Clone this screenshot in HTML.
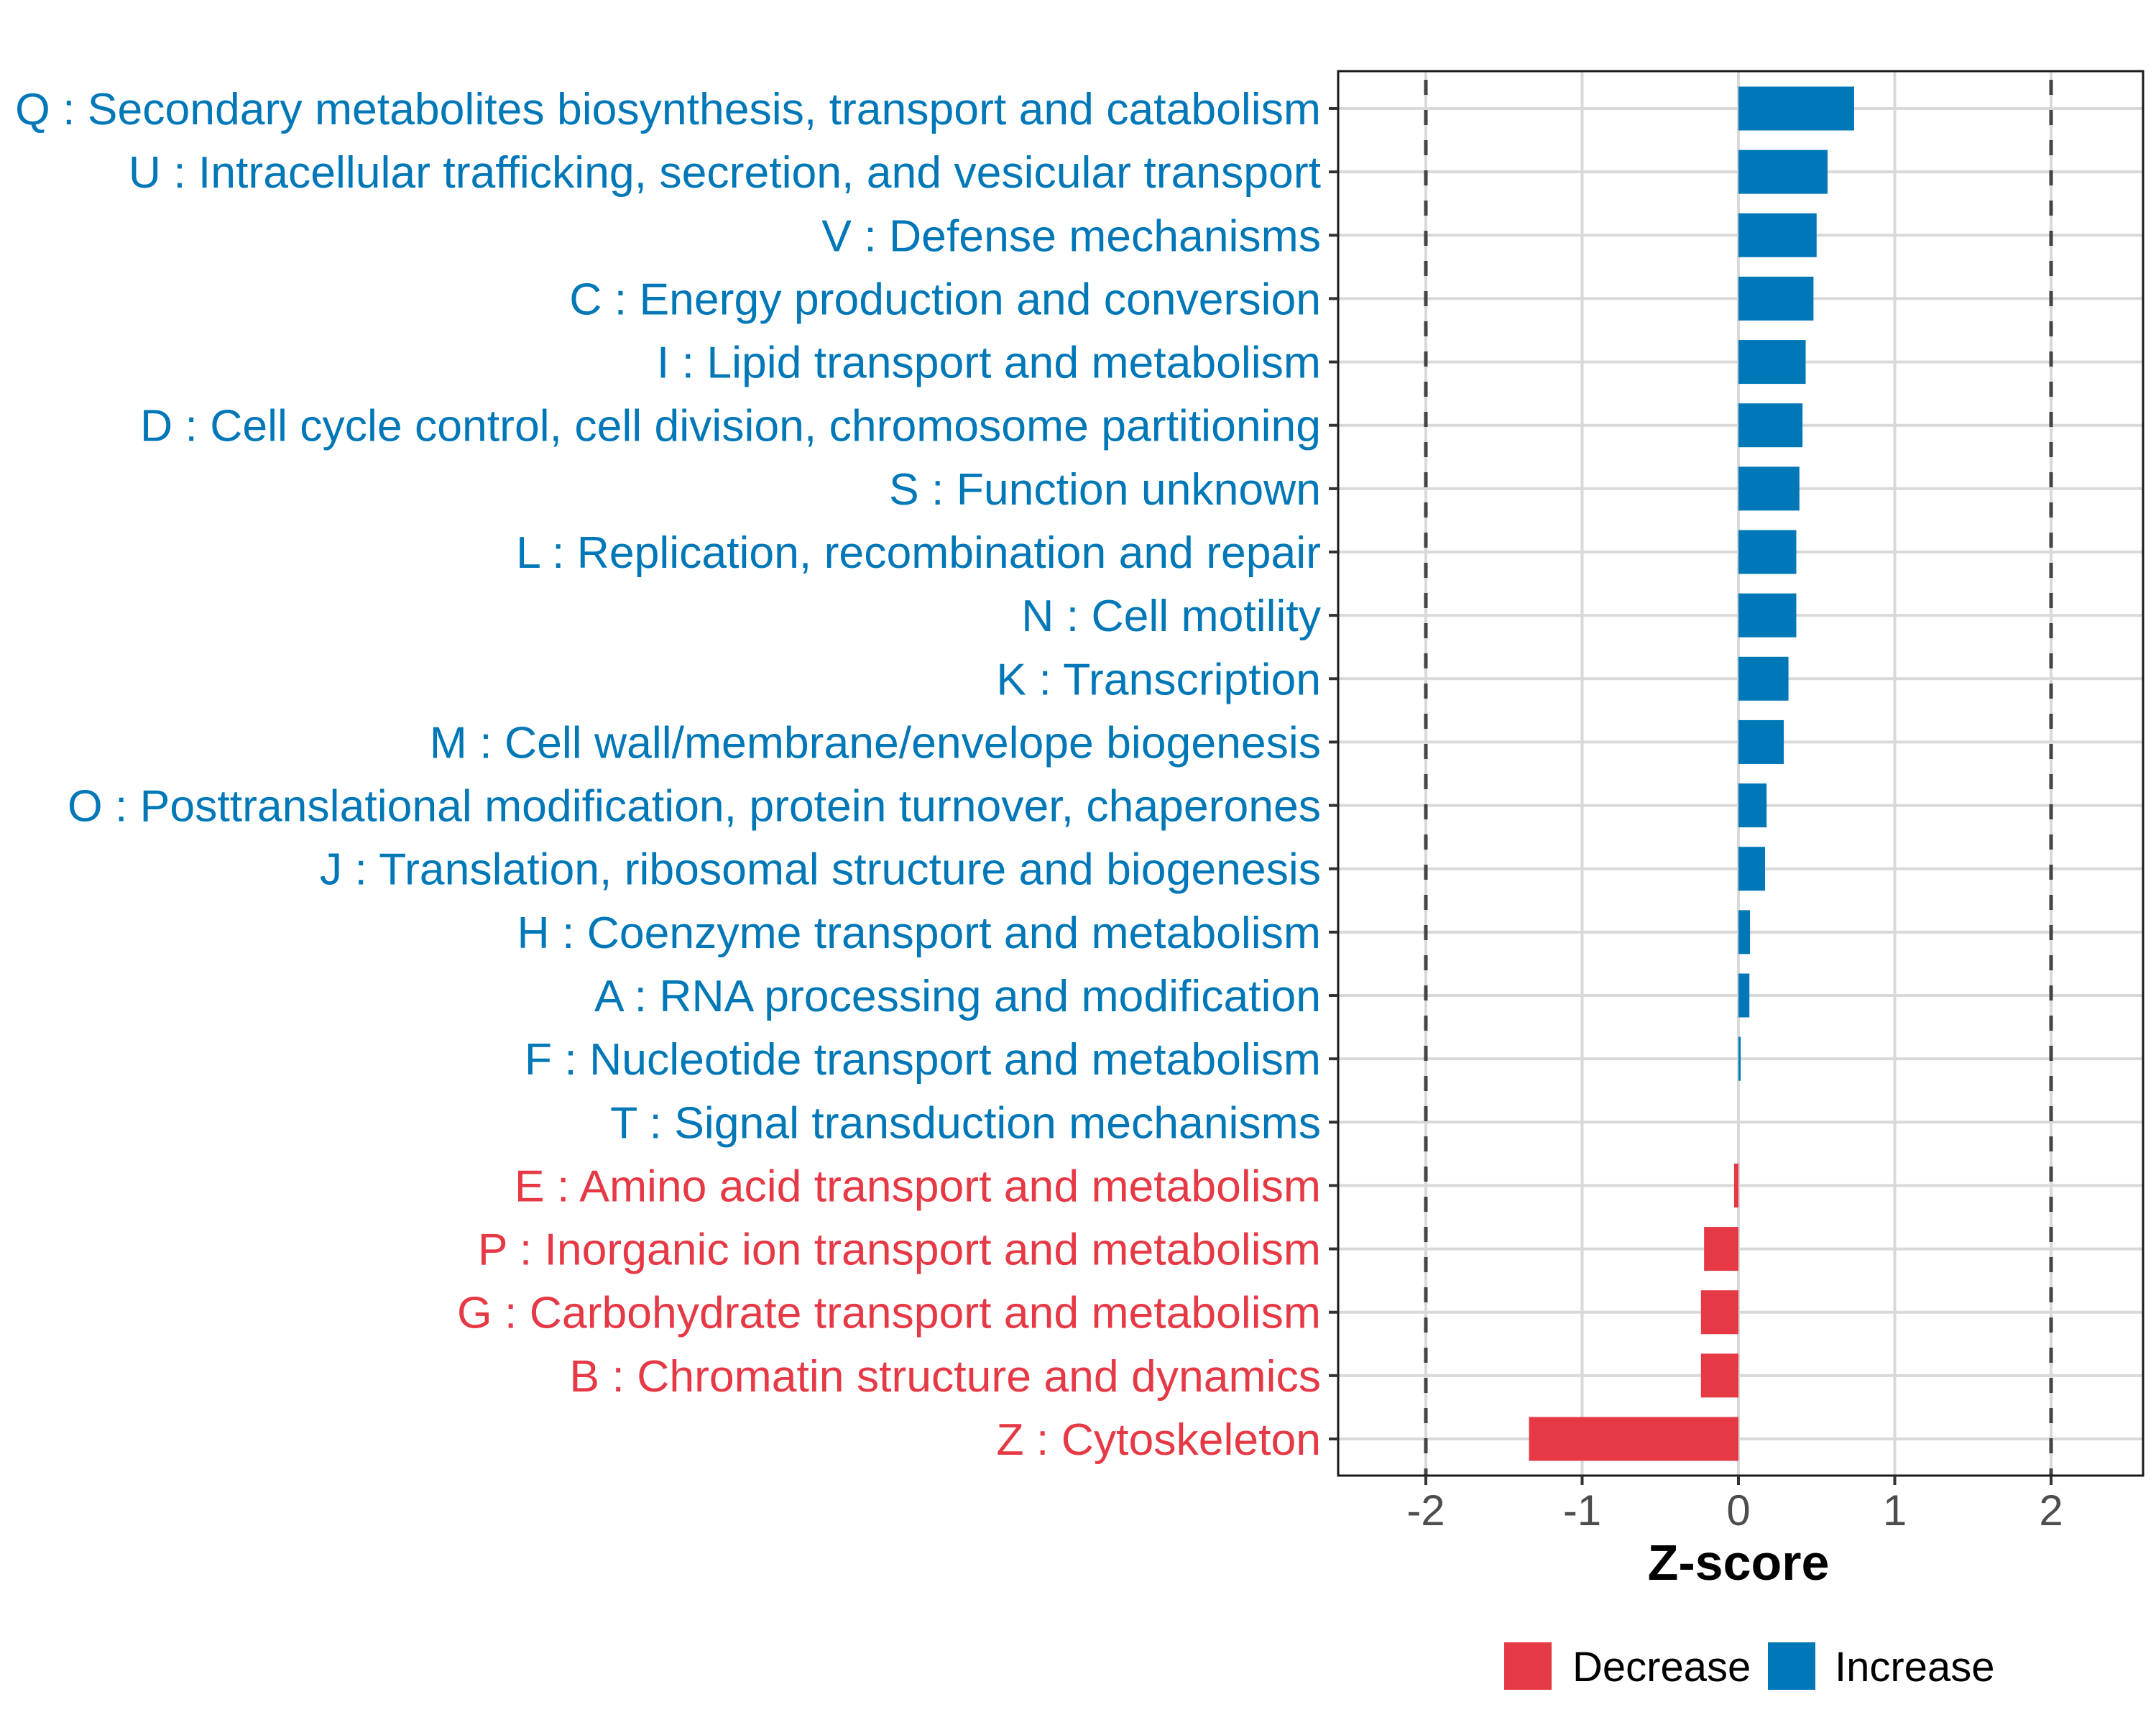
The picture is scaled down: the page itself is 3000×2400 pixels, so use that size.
<!DOCTYPE html>
<html><head><meta charset="utf-8"><style>
html,body{margin:0;padding:0;background:#fff;}
svg{display:block;font-family:"Liberation Sans",sans-serif;}
</style></head><body>
<svg id="chart" width="3000" height="2400" viewBox="0 0 3000 2400" xmlns="http://www.w3.org/2000/svg">
<rect width="3000" height="2400" fill="#fff"/>
<g id="grid"></g>
<g id="bars"></g>
<g id="refs"></g>
<rect x="1862" y="99" width="1120" height="1954" fill="none" stroke="#1a1a1a" stroke-width="3"/>
<g id="axes"></g>
<g id="labels"></g>
<g id="xlabels"></g>
<g id="xtitle-g"></g>
<g id="legend"></g>
</svg>
<script>
const categories = ["Q : Secondary metabolites biosynthesis, transport and catabolism","U : Intracellular trafficking, secretion, and vesicular transport","V : Defense mechanisms","C : Energy production and conversion","I : Lipid transport and metabolism","D : Cell cycle control, cell division, chromosome partitioning","S : Function unknown","L : Replication, recombination and repair","N : Cell motility","K : Transcription","M : Cell wall/membrane/envelope biogenesis","O : Posttranslational modification, protein turnover, chaperones","J : Translation, ribosomal structure and biogenesis","H : Coenzyme transport and metabolism","A : RNA processing and modification","F : Nucleotide transport and metabolism","T : Signal transduction mechanisms","E : Amino acid transport and metabolism","P : Inorganic ion transport and metabolism","G : Carbohydrate transport and metabolism","B : Chromatin structure and dynamics","Z : Cytoskeleton"];
const zscores = [0.74,0.57,0.50,0.48,0.43,0.41,0.39,0.37,0.37,0.32,0.29,0.18,0.17,0.074,0.07,0.014,0,-0.028,-0.22,-0.24,-0.24,-1.34];
const xTicks = [-2,-1,0,1,2];
const xTickLabels = ["-2","-1","0","1","2"];
const refLines = [-2,2];
const legendLabels = ["Decrease","Increase"];

const NS="http://www.w3.org/2000/svg";
const BLUE="#0077b7", RED="#e63946";
const L=1862,R=2982,T=99,B=2053;
const X0=2419, XU=217.5;
function xs(v){return X0+v*XU;}
const ROW0=151, ROWD=(2002-151)/21;
function ys(i){return ROW0+i*ROWD;}
function mk(tag,attrs,parent){const e=document.createElementNS(NS,tag);for(const k in attrs)e.setAttribute(k,attrs[k]);parent.appendChild(e);return e;}
const g=id=>document.getElementById(id);

xTicks.forEach((t,i)=>{
  const ln=mk("line",{x1:xs(t),x2:xs(t),y1:T,y2:B,stroke:"#d9d9d9","stroke-width":4},g("grid"));
  
  
});
categories.forEach((c,i)=>{
  const ln=mk("line",{x1:L,x2:R,y1:ys(i),y2:ys(i),stroke:"#d9d9d9","stroke-width":4},g("grid"));
  
  
});
const BH=61;
zscores.forEach((v,i)=>{
  const x=Math.min(xs(0),xs(v)), w=Math.abs(xs(v)-xs(0));
  if(w<=0) return;
  const r=mk("rect",{x:x,y:ys(i)-BH/2,width:w,height:BH,fill:v<0?RED:BLUE},g("bars"));
  
  
});
refLines.forEach(v=>{
  const ln=mk("line",{x1:xs(v),x2:xs(v),y1:T,y2:B,stroke:"#444","stroke-width":5,"stroke-dasharray":"21 21","stroke-dashoffset":"-12"},g("refs"));
  
  
});
categories.forEach((c,i)=>{
  const tk=mk("line",{x1:L-13,x2:L,y1:ys(i),y2:ys(i),stroke:"#333","stroke-width":4},g("axes"));
  
  
});
xTicks.forEach(t=>{
  const tk=mk("line",{x1:xs(t),x2:xs(t),y1:B,y2:B+13,stroke:"#333","stroke-width":4},g("axes"));
  
  
});

function txt(parent,x,y,str,attrs,anchor){
  const t=mk("text",Object.assign({x:x,y:y,"text-anchor":anchor},attrs),parent);
  t.textContent=str;
  return t;
}
categories.forEach((c,i)=>{
  const t=txt(g("labels"),1838,ys(i)+22,c,{"font-size":62.5,fill:zscores[i]<0?RED:BLUE},"end");
  
  
});
xTicks.forEach((tv,i)=>{
  const t=txt(g("xlabels"),xs(tv),2122,xTickLabels[i],{"font-size":60,fill:"#4d4d4d"},"middle");
  
  
});
const xt=txt(g("xtitle-g"),xs(0),2198,"Z-score",{"font-size":70,"font-weight":"bold",fill:"#000"},"middle");


const legX=[2093,2460], legTX=[2188,2553];
legendLabels.forEach((lab,i)=>{
  const r=mk("rect",{x:legX[i],y:2285,width:66,height:66,fill:i===0?RED:BLUE},g("legend"));
  
  
  const t=txt(g("legend"),legTX[i],2339,lab,{"font-size":58,fill:"#000"},"start");
  
  
});
</script>
</body></html>
